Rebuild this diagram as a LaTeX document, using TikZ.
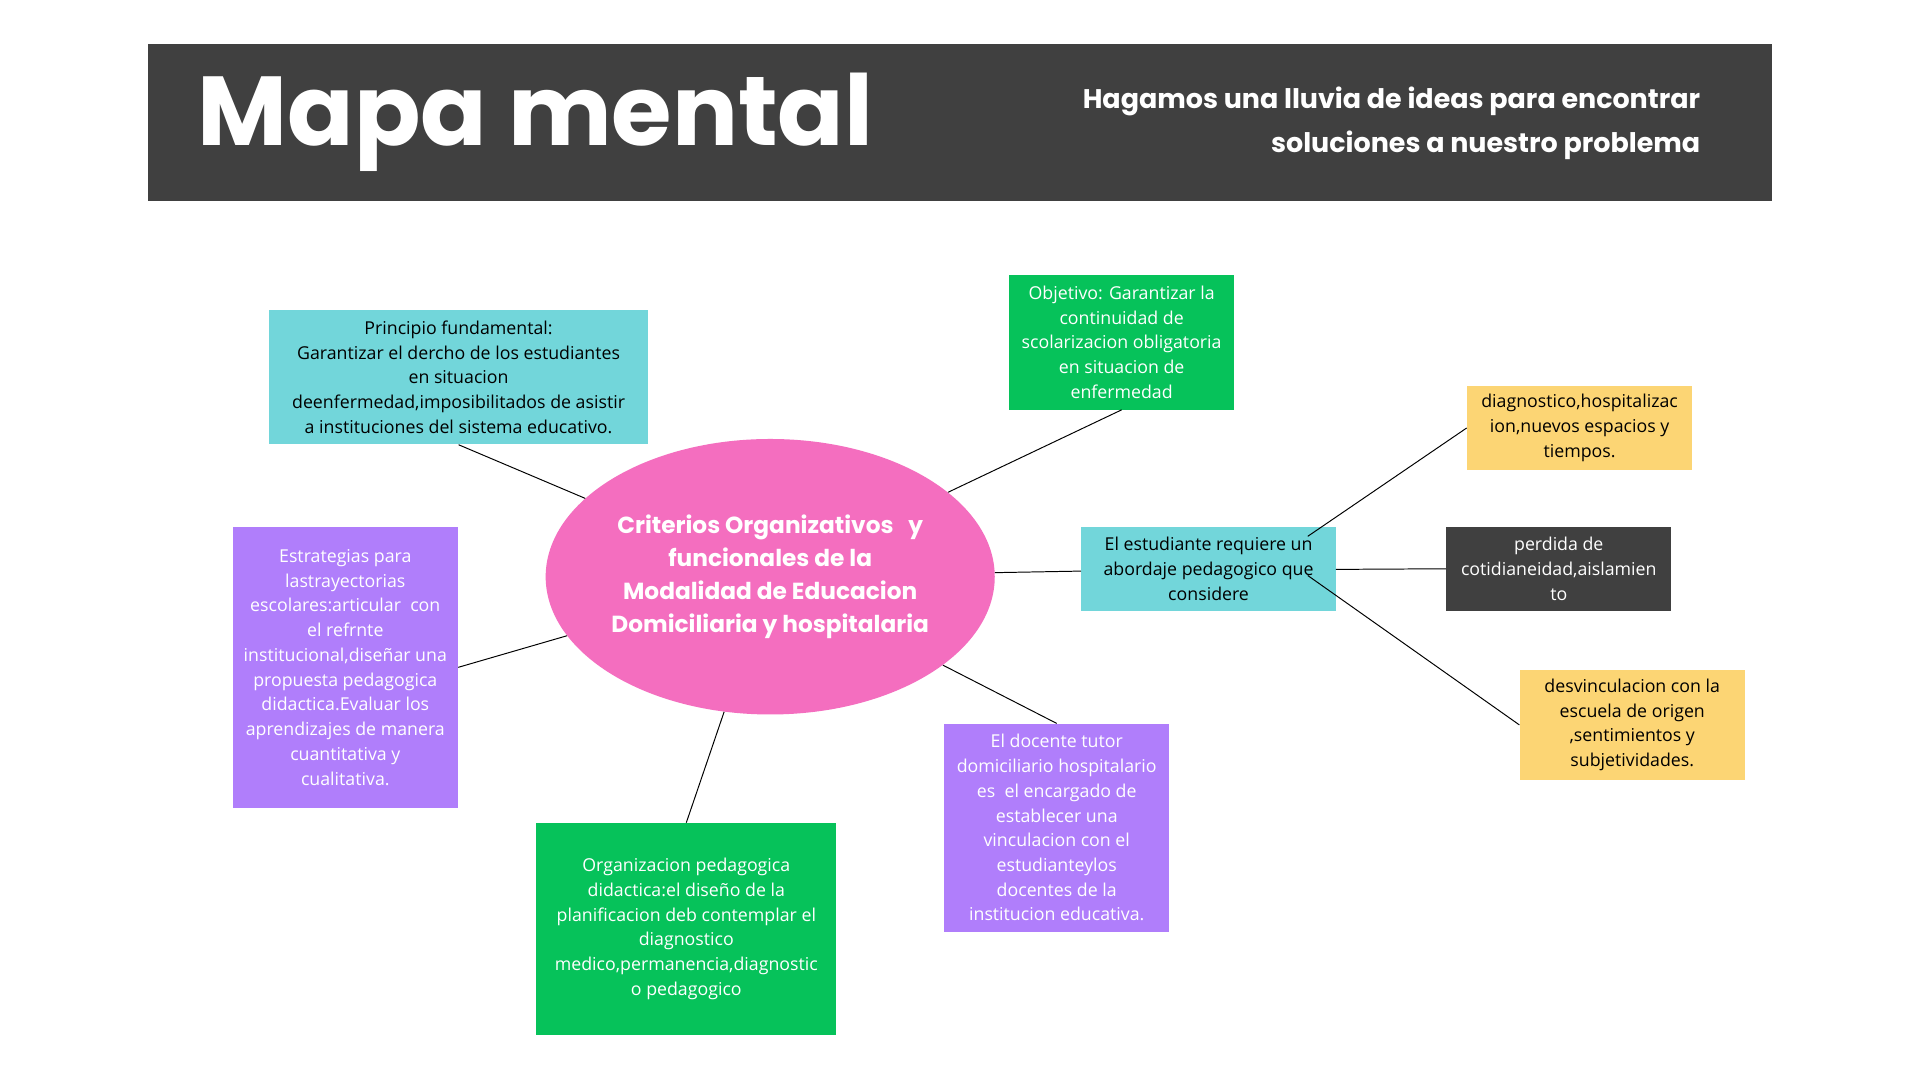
\documentclass[tikz,border=0pt]{standalone}
\usepackage{fontspec}
\setmainfont{Open Sans}
\newfontfamily\pop{Poppins}
\usetikzlibrary{shapes.geometric}
\definecolor{dark}{HTML}{404040}
\definecolor{cy}{HTML}{72D6DA}
\definecolor{gr}{HTML}{06C25A}
\definecolor{pu}{HTML}{B07EFB}
\definecolor{pk}{HTML}{F46EBF}
\definecolor{ye}{HTML}{FCD574}
\begin{document}
\begin{tikzpicture}[x=1pt,y=-1pt,
 box/.style={rectangle,inner sep=0pt,align=center,font=\fontsize{14.5}{20.2}\selectfont},
 ln/.style={draw=black,line width=0.8pt}]
\useasboundingbox (0,0) rectangle (1568,882);
\fill[white] (0,0) rectangle (1568,882);
\fill[dark] (121,36) rectangle (1447,164);
\node[anchor=west,text=white,font=\pop\bfseries\fontsize{80}{90}\selectfont] (title) at (158,100) {Mapa mental};
\node[anchor=east,text=white,align=right,font=\pop\bfseries\fontsize{22}{36}\selectfont] (sub) at (1392,101) {Hagamos una lluvia de ideas para encontrar\\soluciones a nuestro problema};

\node[ellipse,fill=pk,minimum width=340pt,minimum height=225pt,inner sep=0pt,align=center,text=white,font=\pop\bfseries\fontsize{19}{27}\selectfont] (ell) at (629,471) {Criterios Organizativos~~ y\\funcionales de la\\Modalidad de Educacion\\Domiciliaria y hospitalaria};

\node[box,fill=cy,minimum width=310pt,minimum height=110pt] (princ) at (374.5,308) {Principio fundamental:\\Garantizar el dercho de los estudiantes\\en situacion\\deenfermedad,imposibilitados de asistir\\a instituciones del sistema educativo.};
\node[box,fill=gr,text=white,minimum width=184pt,minimum height=110pt] (obj) at (916,279.5) {Objetivo: Garantizar la\\continuidad de\\scolarizacion obligatoria\\en situacion de\\enfermedad};
\node[box,fill=pu,text=white,minimum width=184pt,minimum height=230pt] (estr) at (282,545) {Estrategias para\\lastrayectorias\\escolares:articular~ con\\el refrnte\\institucional,diseñar una\\propuesta pedagogica\\didactica.Evaluar los\\aprendizajes de manera\\cuantitativa y\\cualitativa.};
\node[box,fill=gr,text=white,minimum width=245pt,minimum height=173pt] (org) at (560.5,758.5) {Organizacion pedagogica\\didactica:el diseño de la\\planificacion deb contemplar el\\diagnostico\\medico,permanencia,diagnostic\\o pedagogico};
\node[box,fill=pu,text=white,minimum width=184pt,minimum height=170pt] (doc) at (863,676) {El docente tutor\\domiciliario hospitalario\\es~ el encargado de\\establecer una\\vinculacion con el\\estudianteylos\\docentes de la\\institucion educativa.};
\node[box,fill=cy,minimum width=208pt,minimum height=69pt] (stud) at (987,464.5) {El estudiante requiere un\\abordaje pedagogico que\\considere};
\node[box,fill=ye,minimum width=184pt,minimum height=69pt] (diag) at (1290,349.5) {diagnostico,hospitalizac\\ion,nuevos espacios y\\tiempos.};
\node[box,fill=dark,text=white,minimum width=184pt,minimum height=69pt] (perd) at (1273,464.5) {perdida de\\cotidianeidad,aislamien\\to};
\node[box,fill=ye,minimum width=184pt,minimum height=90pt] (desv) at (1333,592) {desvinculacion con la\\escuela de origen\\,sentimientos y\\subjetividades.};

\coordinate (s1) at (1068,438);
\coordinate (s2) at (1091,465);
\coordinate (s3) at (1068,470);
\draw[ln] (princ.south) -- (ell);
\draw[ln] (obj.south) -- (ell);
\draw[ln] (estr.east) -- (ell);
\draw[ln] (org.north) -- (ell);
\draw[ln] (doc.north) -- (ell);
\draw[ln] (ell) -- (stud);
\draw[ln] (s1) -- (diag.west);
\draw[ln] (s2) -- (perd.west);
\draw[ln] (s3) -- (desv.west);
\end{tikzpicture}
\end{document}
